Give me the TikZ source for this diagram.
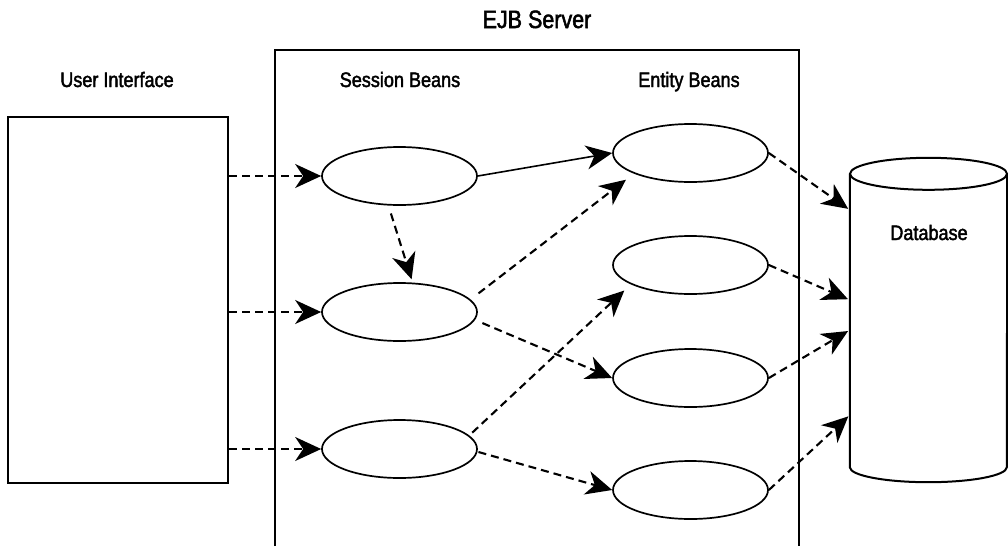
\documentclass[tikz,border=0pt]{standalone}
\usepackage{fontspec}
\setmainfont{Liberation Sans}[FakeStretch=0.86,FakeBold=2]
\usetikzlibrary{arrows.meta,shapes.geometric,calc}
\tikzset{
  bean/.style={draw, ellipse, line width=1.7pt, minimum width=155pt, minimum height=58pt, inner sep=0pt},
  lbl/.style={font=\fontsize{21pt}{22pt}\selectfont, anchor=base, inner sep=0pt},
  title/.style={font=\fontsize{25pt}{26pt}\selectfont, anchor=base, inner sep=0pt},
  frame/.style={line width=2pt},
  flow/.style={line width=2.1pt, dash pattern=on 8pt off 5pt, -{Stealth[length=26pt,width=24pt,inset=8pt]}},
  flowsolid/.style={line width=1.6pt, -{Stealth[length=26pt,width=24pt,inset=8pt]}}
}
\begin{document}
\begin{tikzpicture}[x=1pt,y=-1pt]
\useasboundingbox (0,0) rectangle (1008,546);
% titles
\node[title] (ejb) at (537,28) {EJB Server};
\node[lbl] (uil) at (117,87) {User Interface};
\node[lbl] (sbl) at (400,87) {Session Beans};
\node[lbl] (ebl) at (689,87) {Entity Beans};
% user interface box
\node[draw, frame, minimum width=220pt, minimum height=366pt, inner sep=0pt] (ui) at (118,300) {};
% server frame (open at the bottom)
\coordinate (sbl0) at (275,546);
\coordinate (sbr0) at (799,546);
\draw[frame] (sbl0) -- (275,50) -- (799,50) -- (sbr0);
% session beans
\node[bean] (s1) at (399.5,176) {};
\node[bean] (s2) at (399.5,312) {};
\node[bean] (s3) at (399.5,449) {};
% entity beans
\node[bean] (e1) at (690.5,153) {};
\node[bean] (e2) at (690.5,265) {};
\node[bean] (e3) at (690.5,378) {};
\node[bean] (e4) at (690.5,490) {};
% database
\node[minimum width=157pt, minimum height=294pt, inner sep=0pt] (db) at (928.5,321) {};
\draw[frame] (db.north) ellipse [x radius=78.5pt, y radius=16pt];
\draw[frame] (db.north west) -- ([yshift=1pt]db.south west)
  arc[start angle=180, end angle=360, x radius=78.5pt, y radius=15pt] -- (db.north east);
\node[lbl] (dbl) at (929,240) {Database};
% UI -> session
\draw[flow] (ui.east |- s1.west) -- (s1.west);
\draw[flow] (ui.east |- s2.west) -- (s2.west);
\draw[flow] (ui.east |- s3.west) -- (s3.west);
% session -> session
\draw[flow, shorten <=8pt, shorten >=3pt] ([xshift=-11pt]s1.south) -- ([xshift=13pt]s2.north);
% session -> entity
\draw[flowsolid] (s1.east) -- (e1.west);
\draw[flow, shorten <=10pt, shorten >=10pt] (s2.10) -- (e1.200);
\draw[flow, shorten <=8pt] (s2.-6) -- (e3.west);
\draw[flow, shorten <=4pt, shorten >=9pt] (s3.11) -- (e2.198);
\draw[flow, shorten <=1pt] (s3.-2) -- (e4.west);
% entity -> database
\draw[flow, shorten >=2pt] (e1.east) -- ([yshift=111pt]db.west);
\draw[flow, shorten >=2pt] (e2.east) -- ([yshift=21pt]db.west);
\draw[flow, shorten >=2pt] (e3.east) -- ([yshift=-9pt]db.west);
\draw[flow, shorten >=2pt] (e4.east) -- ([yshift=-94pt]db.west);
\end{tikzpicture}
\end{document}
